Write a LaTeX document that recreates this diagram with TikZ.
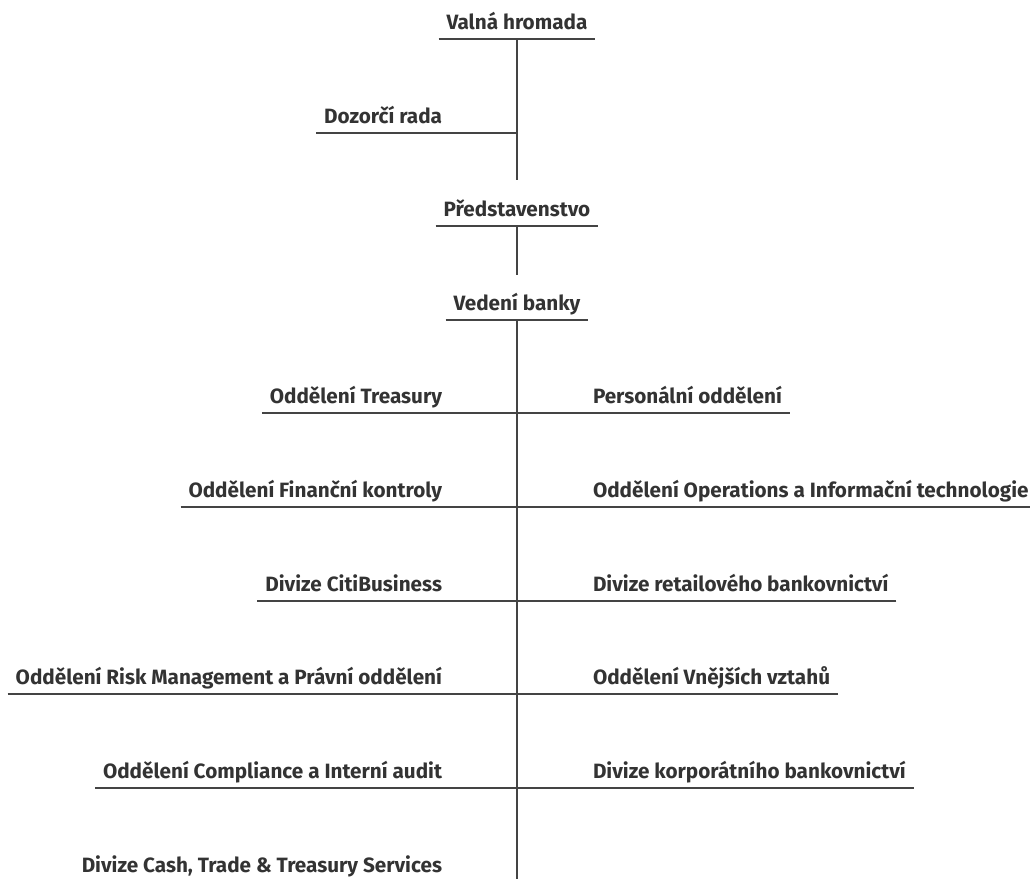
\documentclass[tikz,border=0pt]{standalone}
\usepackage{fontspec}
\setmainfont{Fira Sans}
\definecolor{inkgray}{HTML}{333333}
\definecolor{rulegray}{HTML}{444444}
\tikzset{
	lbl/.style={font=\bfseries\fontsize{20.7}{24}\selectfont, text=inkgray, inner xsep=8pt, inner ysep=0pt, outer sep=0pt, text height=14pt, text depth=10pt},
	rule/.style={draw=rulegray, line width=1.3pt}
}
\begin{document}
\begin{tikzpicture}[x=1pt, y=-1pt]
				\useasboundingbox (0,0) rectangle (1030,879);
				\coordinate (spine) at (517,0);
				% Top of the chart
				\node[lbl, anchor=south] (valna) at (517,39) {Valná hromada};
				\node[lbl, anchor=south east] (dozor) at (450,133) {Dozorčí rada};
				\node[lbl, anchor=south] (pred) at (517,226) {Představenstvo};
				\node[lbl, anchor=south] (vedeni) at (517,320) {Vedení banky};
				\coordinate (gap1) at (517,180);
				\coordinate (gap2) at (517,275);
				\coordinate (bottom) at (517,879);
				\draw[rule] (valna.south west) -- (valna.south east);
				\draw[rule] (pred.south west) -- (pred.south east);
				\draw[rule] (vedeni.south west) -- (vedeni.south east);
				\draw[rule] (dozor.south west) -- (dozor.south west -| spine);
				% Spine
				\draw[rule] (valna.south) -- (gap1);
				\draw[rule] (pred.south) -- (gap2);
				\draw[rule] (vedeni.south) -- (bottom);
				% Left side
				\foreach \name/\txt/\y in {treasury/{Oddělení Treasury}/413, finkon/{Oddělení Finanční kontroly}/507, citi/{Divize CitiBusiness}/601, risk/{Oddělení Risk Management a Právní oddělení}/694, compl/{Oddělení Compliance a Interní audit}/788}
				{\node[lbl, anchor=south east] (\name) at (450,\y) {\txt};
				\draw[rule] (\name.south west) -- (\name.south west -| spine);}
				\node[lbl, anchor=south east] (cash) at (450,882) {Divize Cash, Trade \& Treasury Services};
				% Right side
				\foreach \name/\txt/\y in {person/{Personální oddělení}/413, oper/{Oddělení Operations a Informační technologie}/507, retail/{Divize retailového bankovnictví}/601, vnejsi/{Oddělení Vnějších vztahů}/694, korpor/{Divize korporátního bankovnictví}/788}
				{\node[lbl, anchor=south west] (\name) at (585,\y) {\txt};
				\draw[rule] (\name.south east) -- (\name.south east -| spine);}
			\end{tikzpicture}
\end{document}
